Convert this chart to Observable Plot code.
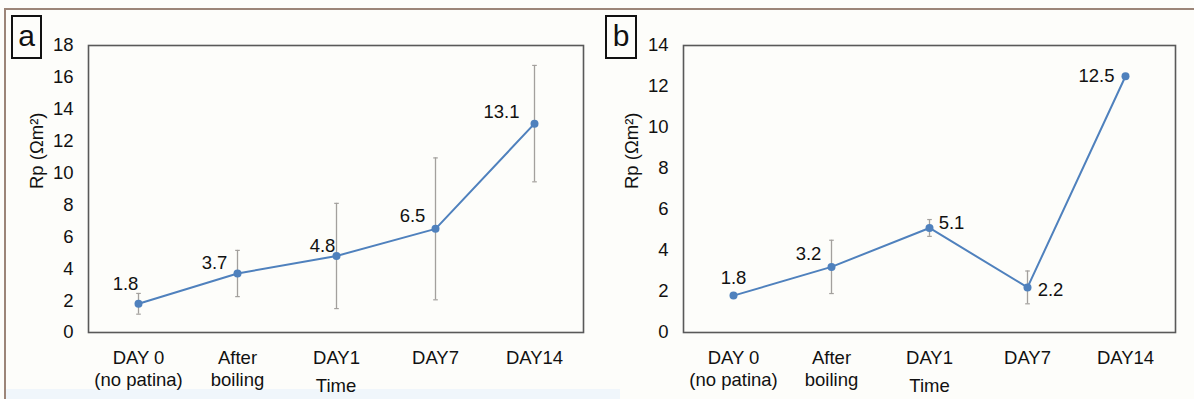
<!DOCTYPE html>
<html><head><meta charset="utf-8">
<script src="https://cdn.jsdelivr.net/npm/d3@7"></script>
<script src="https://cdn.jsdelivr.net/npm/@observablehq/plot@0.6"></script>
<style>
html,body{margin:0;padding:0;background:#fdfdfa;}
#wrap{position:relative;width:1194px;height:399px;overflow:hidden;background:#fdfdfa;font-family:"Liberation Sans",Arial,sans-serif;color:#111;}
.border{position:absolute;left:4px;top:8px;right:-10px;bottom:-10px;border-top:2px solid #9c8578;border-left:2px solid #9c8578;}
.tint{position:absolute;left:6px;top:389px;width:614px;height:10px;background:#f0f6fb;}
.panel{position:absolute;top:0;}
.panel svg{overflow:hidden;}
.tag{position:absolute;top:15px;height:44px;border:2px solid #111;box-sizing:border-box;font-size:30px;line-height:38px;text-align:center;color:#111;}
</style></head>
<body><div id="wrap">
<div class="border"></div>
<div class="tint"></div>
<div class="panel" id="pa" style="left:0px"></div>
<div class="panel" id="pb" style="left:595px"></div>
<div class="tag" style="left:11px;width:31px">a</div>
<div class="tag" style="left:605px;width:32px">b</div>
</div>
<script>
const categories = ["DAY 0\n(no patina)", "After\nboiling", "DAY1", "DAY7", "DAY14"];
const rpA = [1.8, 3.7, 4.8, 6.5, 13.1];
const errA = [0.65, 1.45, 3.3, 4.45, 3.65];
const rpB = [1.8, 3.2, 5.1, 2.2, 12.5];
const errB = [0, 1.3, 0.41, 0.8, 0];
const ticksA = [0, 2, 4, 6, 8, 10, 12, 14, 16, 18];
const ticksB = [0, 2, 4, 6, 8, 10, 12, 14];
const yTitle = "Rp (Ωm²)";
const xTitle = "Time";

const FONT = 18.5;
const INK = "#111";
const BLUE = "#4f81bd";
const ERR = "#a3a09d";
const capSymbol = {draw(ctx, size) { const w = Math.sqrt(size) / 2; ctx.moveTo(-w, 0); ctx.lineTo(w, 0); }};

function panel(values, errors, yTicks, placements, width, marginRight) {
  const data = categories.map((c, i) => ({cat: c, rp: values[i], err: errors[i]}));
  const withErr = data.filter(d => d.err > 0);
  const labels = placements.map(([dx, dy], i) => Plot.text([data[i]], {
    x: "cat", y: "rp", text: d => d.rp.toFixed(1), dx, dy, fontSize: FONT, fill: INK
  }));
  return Plot.plot({
    width, height: 399,
    marginLeft: 88, marginRight, marginTop: 45, marginBottom: 67,
    style: {fontFamily: '"Liberation Sans", Arial, sans-serif', background: "transparent", color: INK},
    x: {type: "point", domain: categories, padding: 0.5},
    y: {domain: [yTicks[0], yTicks[yTicks.length - 1]]},
    marks: [
      Plot.frame({stroke: "#595959", strokeWidth: 1.6}),
      Plot.axisY({ticks: yTicks, tickSize: 0, tickPadding: 15, fontSize: FONT, label: null, fill: INK}),
      Plot.axisX({tickSize: 0, tickPadding: 16, fontSize: FONT, lineHeight: 1.2, label: null, fill: INK}),
      Plot.ruleX(withErr, {x: "cat", y1: d => d.rp - d.err, y2: d => d.rp + d.err, stroke: ERR, strokeWidth: 1.3}),
      Plot.dot(withErr, {x: "cat", y: d => d.rp + d.err, symbol: capSymbol, r: 2.6, stroke: ERR, strokeWidth: 1.2}),
      Plot.dot(withErr, {x: "cat", y: d => d.rp - d.err, symbol: capSymbol, r: 2.6, stroke: ERR, strokeWidth: 1.2}),
      Plot.line(data, {x: "cat", y: "rp", stroke: BLUE, strokeWidth: 2}),
      Plot.dot(data, {x: "cat", y: "rp", r: 4, fill: BLUE, stroke: "none"}),
      ...labels,
      Plot.text([yTitle], {frameAnchor: "left", rotate: -90, dx: -51, fontSize: FONT, fill: INK}),
      Plot.text([xTitle], {frameAnchor: "bottom", dy: 59, fontSize: FONT, fill: INK})
    ]
  });
}

document.getElementById("pa").append(panel(rpA, errA, ticksA,
  [[-13, -20], [-23, -10], [-14, -10], [-23, -13], [-33, -12]], 600, 17));
document.getElementById("pb").append(panel(rpB, errB, ticksB,
  [[0, -18], [-23, -13], [22, -5], [23, 3], [-29, 0]], 599, 19));
</script>
</body></html>
